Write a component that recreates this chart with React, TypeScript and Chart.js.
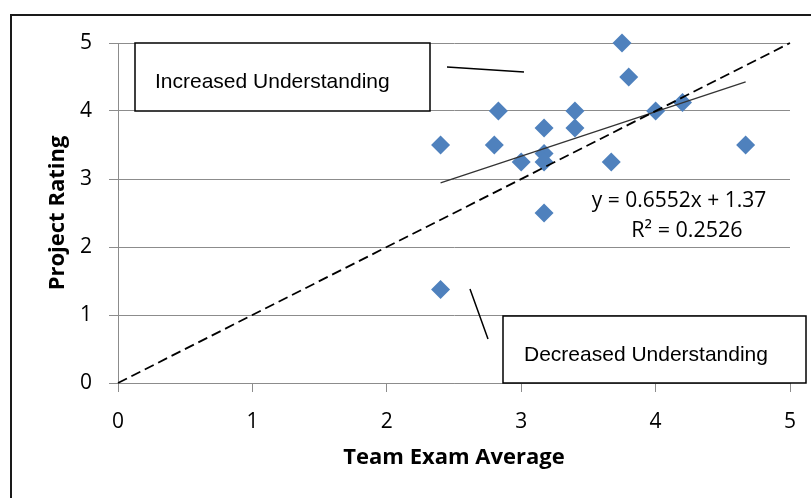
import React, { useEffect, useRef } from "react";
import { Chart, registerables } from "chart.js";

Chart.register(...registerables);

// ---- data ----
const examAverage = [2.4, 2.4, 2.8, 2.83, 3.0, 3.17, 3.17, 3.17, 3.17, 3.4, 3.4, 3.67, 3.75, 3.8, 4.0, 4.2, 4.67];
const projectRating = [3.5, 1.375, 3.5, 4.0, 3.25, 3.75, 3.375, 3.25, 2.5, 4.0, 3.75, 3.25, 5.0, 4.5, 4.0, 4.125, 3.5];
const trendSlope = 0.6552;
const trendIntercept = 1.37;
const trendR2 = 0.2526;
const referenceLine = [0, 5]; // y = x
const axisMin = 0;
const axisMax = 5;
const xTitle = "Team Exam Average";
const yTitle = "Project Rating";
const increasedLabel = "Increased Understanding";
const decreasedLabel = "Decreased Understanding";

const GREY = "#8c8c8c";
const TICK_FONT = { family: "'Open Sans', sans-serif", size: 21 };
const TITLE_FONT = { family: "'Open Sans', sans-serif", size: 22, weight: "bold" as const };

const annotationPlugin = {
  id: "annotations",
  beforeDraw(chart: any) {
    const ctx = chart.ctx;
    ctx.save();
    ctx.fillStyle = "#ffffff";
    ctx.fillRect(0, 0, chart.width, chart.height);
    ctx.restore();
  },
  afterDraw(chart: any) {
    const ctx = chart.ctx as CanvasRenderingContext2D;
    ctx.save();
    // outer frame
    ctx.strokeStyle = "#1a1a1a";
    ctx.lineWidth = 2;
    ctx.strokeRect(11, 15, 1000, 1000);

    // text boxes
    const drawBox = (x: number, y: number, w: number, h: number, text: string, tx: number, ty: number) => {
      ctx.fillStyle = "#ffffff";
      ctx.fillRect(x, y, w, h);
      ctx.strokeStyle = "#000000";
      ctx.lineWidth = 1.5;
      ctx.strokeRect(x, y, w, h);
      ctx.fillStyle = "#000000";
      ctx.font = "21px 'Liberation Sans', Arial, sans-serif";
      ctx.textAlign = "left";
      ctx.textBaseline = "alphabetic";
      ctx.fillText(text, tx, ty);
    };
    drawBox(135, 43, 295, 68, increasedLabel, 155, 88);
    drawBox(503, 316, 303, 67, decreasedLabel, 524, 361);

    // connector lines
    ctx.strokeStyle = "#000000";
    ctx.lineWidth = 1.5;
    ctx.beginPath();
    ctx.moveTo(447, 67);
    ctx.lineTo(524, 72);
    ctx.moveTo(470, 289);
    ctx.lineTo(488, 339);
    ctx.stroke();

    // trendline equation
    ctx.fillStyle = "#000000";
    ctx.font = "21px 'Open Sans', sans-serif";
    ctx.textAlign = "center";
    ctx.textBaseline = "alphabetic";
    ctx.fillText(`y = ${trendSlope}x + ${trendIntercept}`, 679, 207);
    ctx.font = "21.5px 'Open Sans', sans-serif";
    ctx.fillText(`R\u00B2 = ${trendR2}`, 687, 237);
    ctx.restore();
  },
};

export default function App() {
  const canvasRef = useRef<HTMLCanvasElement | null>(null);

  useEffect(() => {
    document.body.style.margin = "0";
    const canvas = canvasRef.current;
    if (!canvas) return;

    const points = examAverage.map((x, i) => ({ x, y: projectRating[i] }));
    const xLo = Math.min(...examAverage);
    const xHi = Math.max(...examAverage);
    const trend = [
      { x: xLo, y: trendSlope * xLo + trendIntercept },
      { x: xHi, y: trendSlope * xHi + trendIntercept },
    ];
    const ref = referenceLine.map((v) => ({ x: v, y: v }));

    const chart = new Chart(canvas, {
      type: "scatter",
      data: {
        datasets: [
          {
            label: "Ratings",
            data: points,
            pointStyle: "rectRot",
            pointRadius: 9.5,
            pointBackgroundColor: "#4F81BD",
            pointBorderColor: "#4F81BD",
            pointBorderWidth: 0,
            clip: false,
            order: 3,
          },
          {
            type: "line",
            label: "Trend",
            data: trend,
            borderColor: "#333333",
            borderWidth: 1.3,
            pointRadius: 0,
            fill: false,
            order: 2,
          },
          {
            type: "line",
            label: "y = x",
            data: ref,
            borderColor: "#000000",
            borderWidth: 1.8,
            borderDash: [10, 5],
            pointRadius: 0,
            fill: false,
            clip: false,
            order: 1,
          },
        ],
      } as any,
      options: {
        animation: false,
        responsive: false,
        maintainAspectRatio: false,
        layout: { padding: { left: 0, top: 43, right: 21, bottom: 0 } },
        plugins: {
          legend: { display: false },
          tooltip: { enabled: false },
          title: { display: false },
        },
        scales: {
          x: {
            type: "linear",
            min: axisMin,
            max: axisMax,
            afterFit: (scale: any) => {
              scale.height = 115;
              scale.paddingLeft = 0;
              scale.paddingRight = 0;
            },
            ticks: { stepSize: 1, color: "#000000", font: TICK_FONT, padding: 17 },
            grid: { drawOnChartArea: false, drawTicks: true, tickLength: 9, color: GREY },
            border: { display: true, color: GREY, width: 1 },
            title: {
              display: true,
              text: xTitle,
              color: "#000000",
              font: TITLE_FONT,
              padding: { top: 0, bottom: 27 },
            },
          },
          y: {
            type: "linear",
            min: axisMin,
            max: axisMax,
            afterFit: (scale: any) => {
              scale.width = 118;
            },
            ticks: { stepSize: 1, color: "#000000", font: TICK_FONT, padding: 17 },
            grid: { drawOnChartArea: true, drawTicks: true, tickLength: 9, color: GREY },
            border: { display: true, color: GREY, width: 1 },
            title: {
              display: true,
              text: yTitle,
              color: "#000000",
              font: TITLE_FONT,
              padding: { top: 45, bottom: 0 },
            },
          },
        },
      } as any,
      plugins: [annotationPlugin],
    });

    return () => chart.destroy();
  }, []);

  return (
    <div style={{ width: 811, height: 498 }}>
      <canvas ref={canvasRef} width={811} height={498} style={{ display: "block" }} />
    </div>
  );
}
